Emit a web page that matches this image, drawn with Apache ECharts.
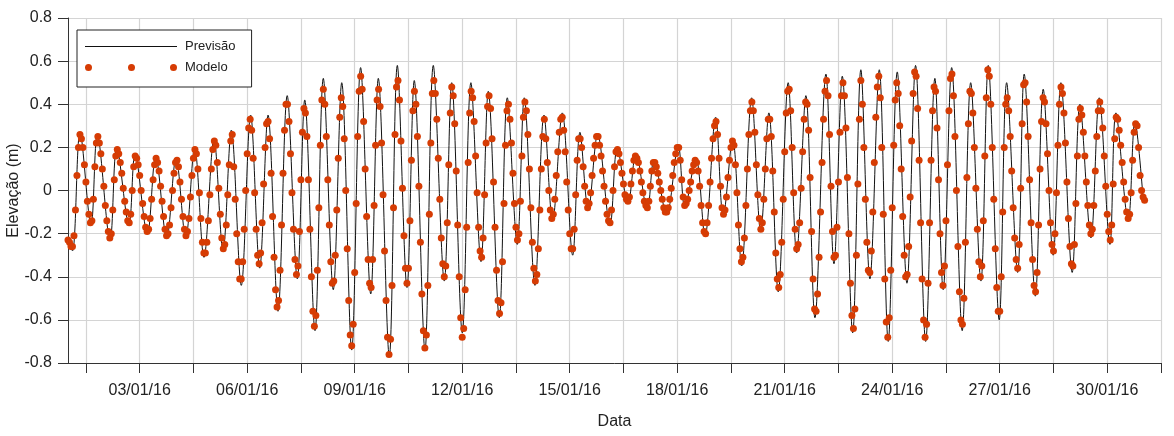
<!DOCTYPE html>
<html>
<head>
<meta charset="utf-8">
<title>Elevação - Previsão x Modelo</title>
<script src="https://cdn.jsdelivr.net/npm/echarts@6.0.0/dist/echarts.min.js"></script>
<style>
  html, body { margin: 0; padding: 0; background: #fff; }
  #grafico { width: 1174px; height: 436px; }
</style>
</head>
<body>
<div id="grafico"></div>
<script>
// eixo x em horas desde 01/01/16 00:00

// marcas e rótulos do eixo das datas
const marcaHoras = [12, 48, 84, 120, 156, 192, 228, 264, 300, 336, 372, 408, 444, 480, 516, 552, 588, 624, 660, 696, 732];
const rotuloHoras = [48, 120, 192, 264, 336, 408, 480, 552, 624, 696];
const rotulos = ['03/01/16', '06/01/16', '09/01/16', '12/01/16', '15/01/16', '18/01/16', '21/01/16', '24/01/16', '27/01/16', '30/01/16'];

// Previsão: preamares e baixa-mares (hora, elevação)
const previsaoHoras = [0, 2.99, 8.06, 15.43, 19.61, 28.17, 32.65, 40.81, 44.89, 53.15, 58.72, 66.09, 72.36, 78.83, 84.80, 91.07, 97.74, 103.81, 109.38, 116.05, 122.32, 128.39, 133.97, 140.64, 146.81, 153.57, 158.55, 165.42, 170.99, 177.66, 183.33, 190.00, 195.97, 202.74, 207.82, 215.18, 220.56, 227.03, 231.90, 239.07, 244.64, 252.01, 256.99, 264.05, 269.83, 276.59, 281.47, 288.84, 294.21, 300.88, 305.56, 312.72, 318.80, 324.57, 331.04, 338.00, 342.88, 348.45, 354.72, 362.99, 367.86, 375.03, 380.40, 387.97, 392.45, 400.91, 408.67, 413.15, 420.51, 426.59, 433.75, 438.83, 445.10, 451.17, 457.84, 463.91, 469.38, 475.65, 482.32, 487.99, 494.17, 500.24, 507.60, 512.98, 518.55, 525.52, 530.99, 537.06, 543.33, 549.31, 555.38, 561.85, 567.62, 574.39, 580.56, 586.13, 591.81, 598.87, 604.55, 611.41, 616.29, 623.66, 628.63, 636.00, 640.38, 647.84, 653.12, 659.78, 664.96, 672.52, 677.70, 685.07, 690.64, 697.81, 701.79, 710.05, 714.53, 720.1];
const previsaoValores = [-0.22, -0.28, 0.27, -0.16, 0.26, -0.23, 0.20, -0.16, 0.17, -0.20, 0.16, -0.22, 0.15, -0.22, 0.20, -0.31, 0.24, -0.28, 0.28, -0.44, 0.35, -0.36, 0.35, -0.56, 0.44, -0.41, 0.42, -0.65, 0.52, -0.46, 0.50, -0.74, 0.57, -0.48, 0.52, -0.77, 0.58, -0.45, 0.51, -0.74, 0.58, -0.42, 0.50, -0.66, 0.50, -0.33, 0.46, -0.59, 0.43, -0.25, 0.43, -0.44, 0.35, -0.14, 0.36, -0.30, 0.27, -0.09, 0.26, -0.16, 0.20, -0.06, 0.17, -0.09, 0.14, -0.11, 0.21, -0.08, 0.15, -0.21, 0.34, -0.12, 0.24, -0.35, 0.43, -0.19, 0.36, -0.47, 0.50, -0.29, 0.44, -0.59, 0.54, -0.34, 0.53, -0.66, 0.56, -0.41, 0.56, -0.70, 0.55, -0.43, 0.58, -0.70, 0.52, -0.46, 0.57, -0.65, 0.50, -0.42, 0.58, -0.60, 0.50, -0.38, 0.54, -0.49, 0.47, -0.30, 0.50, -0.38, 0.40, -0.22, 0.43, -0.25, 0.36, -0.14, 0.32, -0.045];

// Modelo: valores horários (a partir de 01/01/16 00:00)
const modelo = [
  -0.23, -0.24, -0.26, -0.26, -0.21, -0.09, 0.07, 0.20, 0.26,
  0.24, 0.20, 0.12, 0.04, -0.05, -0.11, -0.15,
  -0.14, -0.04, 0.11, 0.22,
  0.25, 0.22, 0.17, 0.10, 0.02, -0.07, -0.14, -0.19, -0.22,
  -0.20, -0.09, 0.05, 0.16,
  0.19, 0.17, 0.13, 0.08, 0.01, -0.05, -0.10, -0.14, -0.15,
  -0.11, 0.00, 0.11, 0.16,
  0.15, 0.12, 0.07, 0.00, -0.06, -0.12, -0.17, -0.19,
  -0.18, -0.13, -0.04, 0.05, 0.12, 0.15,
  0.13, 0.09, 0.02, -0.05, -0.12, -0.18, -0.21,
  -0.20, -0.16, -0.08, 0.00, 0.08, 0.13,
  0.14, 0.11, 0.04, -0.04, -0.12, -0.18, -0.21,
  -0.19, -0.13, -0.03, 0.07, 0.15, 0.19,
  0.17, 0.10, -0.01, -0.13, -0.24, -0.29,
  -0.29, -0.24, -0.14, -0.02, 0.10, 0.19, 0.23,
  0.21, 0.13, 0.01, -0.11, -0.22, -0.27,
  -0.25, -0.16, -0.02, 0.12, 0.23,
  0.26, 0.11, -0.04, -0.20, -0.33, -0.41,
  -0.41, -0.33, -0.18, 0.00, 0.17, 0.29,
  0.33, 0.28, 0.15, -0.01, -0.18, -0.30, -0.34,
  -0.29, -0.15, 0.03, 0.20, 0.31,
  0.32, 0.24, 0.08, -0.12, -0.31, -0.46, -0.54,
  -0.51, -0.37, -0.16, 0.08, 0.28, 0.40,
  0.40, 0.32, 0.17, -0.01, -0.18, -0.32, -0.39,
  -0.35, -0.19, 0.05, 0.27, 0.38,
  0.36, 0.25, 0.05, -0.18, -0.40, -0.56, -0.63,
  -0.58, -0.37, -0.08, 0.21, 0.42,
  0.47, 0.40, 0.25, 0.05, -0.16, -0.33, -0.43,
  -0.42, -0.30, -0.09, 0.15, 0.34, 0.43,
  0.39, 0.24, 0.00, -0.27, -0.51, -0.67,
  -0.72, -0.62, -0.38, -0.06, 0.25, 0.46,
  0.53, 0.47, 0.32, 0.10, -0.12, -0.32, -0.43,
  -0.45, -0.32, -0.07, 0.21, 0.42,
  0.47, 0.39, 0.22, -0.02, -0.28, -0.51, -0.68, -0.76,
  -0.69, -0.44, -0.08, 0.26, 0.48,
  0.51, 0.42, 0.23, 0.01, -0.21, -0.36, -0.43,
  -0.36, -0.14, 0.14, 0.37, 0.46,
  0.40, 0.25, 0.02, -0.24, -0.48, -0.65, -0.73,
  -0.67, -0.44, -0.11, 0.22, 0.45,
  0.51, 0.45, 0.33, 0.15, -0.04, -0.22, -0.34, -0.40,
  -0.35, -0.15, 0.12, 0.36, 0.48,
  0.44, 0.31, 0.09, -0.16, -0.40, -0.59, -0.68,
  -0.64, -0.46, -0.17, 0.13, 0.36, 0.46,
  0.43, 0.32, 0.16, -0.01, -0.17, -0.28,
  -0.31, -0.22, -0.02, 0.22, 0.39,
  0.44, 0.38, 0.24, 0.04, -0.17, -0.37, -0.51, -0.57,
  -0.52, -0.33, -0.06, 0.21, 0.37,
  0.40, 0.33, 0.22, 0.08, -0.06, -0.17, -0.23,
  -0.20, -0.05, 0.16, 0.34, 0.41,
  0.37, 0.26, 0.10, -0.08, -0.24, -0.36, -0.42,
  -0.39, -0.27, -0.09, 0.10, 0.25, 0.33,
  0.24, 0.13, 0.00, -0.09, -0.13,
  -0.11, -0.04, 0.07, 0.18, 0.27, 0.33,
  0.34, 0.28, 0.18, 0.04, -0.09, -0.20, -0.27,
  -0.27, -0.18, -0.02, 0.14, 0.24,
  0.24, 0.20, 0.11, 0.02, -0.05, -0.08,
  -0.06, -0.01, 0.07, 0.15, 0.21, 0.25,
  0.25, 0.21, 0.16, 0.09, 0.02, -0.05, -0.11, -0.14,
  -0.15, -0.09, 0.00, 0.11, 0.18,
  0.19, 0.17, 0.13, 0.08, 0.03, -0.02, -0.04,
  -0.05, -0.03, 0.03, 0.09, 0.14, 0.16,
  0.15, 0.13, 0.09, 0.04, -0.01, -0.05, -0.07,
  -0.08, -0.05, 0.02, 0.09, 0.13,
  0.13, 0.11, 0.08, 0.04, 0.00, -0.04, -0.08, -0.10,
  -0.10, -0.08, -0.04, 0.01, 0.07, 0.13, 0.17, 0.20,
  0.20, 0.14, 0.05, -0.03, -0.07,
  -0.06, -0.04, 0.00, 0.04, 0.09, 0.12, 0.14,
  0.13, 0.09, 0.02, -0.07, -0.15, -0.19,
  -0.20, -0.15, -0.07, 0.04, 0.15, 0.24, 0.30,
  0.32, 0.26, 0.15, 0.02, -0.08,
  -0.11, -0.09, -0.03, 0.06, 0.14, 0.20, 0.23,
  0.21, 0.12, -0.01, -0.16, -0.27, -0.33,
  -0.31, -0.22, -0.07, 0.10, 0.26, 0.37, 0.41,
  0.37, 0.27, 0.12, -0.02, -0.13, -0.18,
  -0.15, -0.04, 0.10, 0.24, 0.33,
  0.33, 0.25, 0.09, -0.10, -0.29, -0.41,
  -0.45, -0.39, -0.24, -0.04, 0.18, 0.36, 0.46,
  0.47, 0.37, 0.20, -0.01, -0.18, -0.27,
  -0.25, -0.15, 0.01, 0.18, 0.33, 0.41,
  0.40, 0.28, 0.06, -0.19, -0.41, -0.55,
  -0.56, -0.48, -0.31, -0.10, 0.13, 0.33, 0.46, 0.51,
  0.44, 0.26, 0.02, -0.19, -0.31,
  -0.30, -0.17, 0.04, 0.27, 0.44, 0.50,
  0.44, 0.29, 0.06, -0.20, -0.43, -0.58, -0.64,
  -0.55, -0.30, 0.03, 0.33, 0.51,
  0.40, 0.20, -0.04, -0.24, -0.37,
  -0.38, -0.28, -0.10, 0.13, 0.34, 0.48,
  0.53, 0.43, 0.20, -0.11, -0.41, -0.61,
  -0.68, -0.59, -0.37, -0.08, 0.21, 0.42, 0.50,
  0.45, 0.30, 0.10, -0.12, -0.30, -0.40,
  -0.39, -0.26, -0.03, 0.23, 0.45, 0.55,
  0.53, 0.38, 0.14, -0.15, -0.41, -0.60, -0.68,
  -0.62, -0.43, -0.15, 0.14, 0.37, 0.48,
  0.46, 0.29, 0.05, -0.20, -0.38,
  -0.44, -0.35, -0.14, 0.12, 0.37, 0.52,
  0.54, 0.44, 0.25, 0.00, -0.26, -0.47, -0.60,
  -0.62, -0.50, -0.24, 0.06, 0.31, 0.46,
  0.45, 0.36, 0.20, 0.01, -0.18, -0.33, -0.40,
  -0.35, -0.14, 0.16, 0.43, 0.56,
  0.53, 0.40, 0.20, -0.04, -0.27, -0.45, -0.56,
  -0.56, -0.40, -0.10, 0.20, 0.40,
  0.43, 0.37, 0.25, 0.09, -0.08, -0.22, -0.32, -0.36,
  -0.25, 0.01, 0.31, 0.49,
  0.50, 0.41, 0.25, 0.05, -0.15, -0.32, -0.44,
  -0.47, -0.38, -0.16, 0.10, 0.32, 0.43,
  0.41, 0.31, 0.17, 0.00, -0.15, -0.25,
  -0.28, -0.20, -0.01, 0.21, 0.40, 0.48,
  0.45, 0.36, 0.22, 0.04, -0.13, -0.26, -0.34,
  -0.35, -0.25, -0.06, 0.16, 0.33,
  0.38, 0.35, 0.27, 0.16, 0.04, -0.07, -0.16, -0.20,
  -0.18, -0.07, 0.09, 0.25, 0.37,
  0.41, 0.37, 0.29, 0.16, 0.02, -0.11, -0.19, -0.23,
  -0.16, 0.03, 0.24, 0.34,
  0.33, 0.28, 0.21, 0.13, 0.04, -0.04, -0.10, -0.13,
  -0.11, -0.01, 0.14, 0.27,
  0.31, 0.30, 0.20, 0.07, 0.00, -0.03, -0.045
];

const FONTE = 'Liberation Sans, Arial, sans-serif';

let grafico = echarts.init(document.getElementById('grafico'), null, { renderer: 'canvas' });

grafico.setOption({
  animation: false,
  backgroundColor: '#fff',
  textStyle: { fontFamily: FONTE },
  grid: { left: 68, right: 13, top: 18, bottom: 73, containLabel: false, outerBoundsMode: 'none' },
  legend: {
    orient: 'vertical',
    left: 77,
    top: 30,
    padding: [10, 16, 13, 8],
    itemGap: 8,
    itemWidth: 92,
    itemHeight: 8,
    backgroundColor: '#fff',
    borderColor: '#222',
    borderWidth: 1,
    selectedMode: false,
    textStyle: { fontFamily: FONTE, fontSize: 13, color: '#222', padding: [0, 0, 0, 3] },
    data: [
      { name: 'Previsão', icon: 'path://M0,0H92V1.2H0Z', itemStyle: { color: '#111', borderWidth: 0 } },
      { name: 'Modelo', icon: 'path://M0,3.5a3.5,3.5 0 1,0 7,0a3.5,3.5 0 1,0 -7,0Z M43,3.5a3.5,3.5 0 1,0 7,0a3.5,3.5 0 1,0 -7,0Z M85,3.5a3.5,3.5 0 1,0 7,0a3.5,3.5 0 1,0 -7,0Z', itemStyle: { color: '#d63c04', borderWidth: 0 } }
    ]
  },
  xAxis: {
    type: 'value',
    min: 0,
    max: 732,
    name: 'Data',
    nameLocation: 'middle',
    nameGap: 51,
    nameMoveOverlap: false,
    nameTextStyle: { fontFamily: FONTE, fontSize: 16, color: '#222' },
    axisLine: { show: true, onZero: false, lineStyle: { color: '#333', width: 1 } },
    axisTick: { show: true, length: 10, customValues: marcaHoras, lineStyle: { color: '#333' } },
    axisLabel: {
      customValues: rotuloHoras,
      margin: 20,
      fontSize: 16,
      color: '#222',
      fontFamily: FONTE,
      formatter: function (v) {
        let i = rotuloHoras.indexOf(v);
        return i >= 0 ? rotulos[i] : '';
      }
    },
    splitLine: { show: true, lineStyle: { color: '#d4d4d4', width: 1.2 } }
  },
  yAxis: {
    type: 'value',
    min: -0.8,
    max: 0.8,
    interval: 0.2,
    name: 'Elevação (m)',
    nameLocation: 'middle',
    nameGap: 46,
    nameMoveOverlap: false,
    nameTextStyle: { fontFamily: FONTE, fontSize: 16, color: '#222' },
    axisLine: { show: true, lineStyle: { color: '#333', width: 1 } },
    axisTick: { show: true, length: 10, lineStyle: { color: '#333' } },
    axisLabel: {
      margin: 16,
      fontSize: 16,
      color: '#222',
      fontFamily: FONTE,
      formatter: function (v) { return String(Math.round(v * 10) / 10); }
    },
    splitLine: { show: true, lineStyle: { color: '#d4d4d4', width: 1.2 } }
  },
  series: [
    {
      name: 'Previsão',
      type: 'line',
      color: '#111',
      data: previsaoHoras.map((h, i) => [h, previsaoValores[i]]),
      smooth: 0.35,
      showSymbol: false,
      symbol: 'none',
      lineStyle: { color: '#111', width: 1 },
      z: 2
    },
    {
      name: 'Modelo',
      type: 'scatter',
      color: '#d63c04',
      data: modelo.map((v, i) => [i, v]),
      symbol: 'circle',
      symbolSize: 7,
      itemStyle: { color: '#d63c04', opacity: 1 },
      z: 3
    }
  ]
});
</script>
</body>
</html>
